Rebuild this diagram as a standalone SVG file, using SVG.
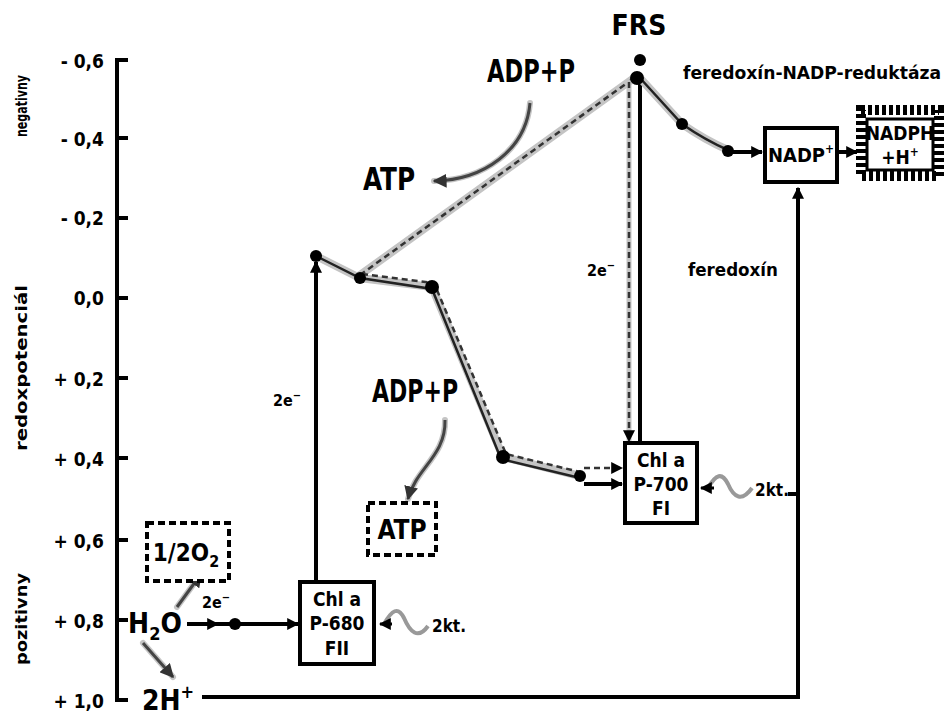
<svg xmlns="http://www.w3.org/2000/svg" width="944" height="717" viewBox="0 0 944 717">
<defs>
<marker id="ah" viewBox="0 0 10 10" refX="9" refY="5" markerWidth="12" markerHeight="12" markerUnits="userSpaceOnUse" orient="auto"><path d="M0,0 L10,5 L0,10 z" fill="#000"/></marker>
<marker id="ahg" viewBox="0 0 10 10" refX="9" refY="5" markerWidth="14" markerHeight="14" markerUnits="userSpaceOnUse" orient="auto"><path d="M0,0 L10,5 L0,10 z" fill="#333"/></marker>
</defs>
<style>
.t{font-family:"Liberation Sans Narrow","DejaVu Sans Condensed","Liberation Sans",sans-serif;font-weight:bold;fill:#000;text-anchor:middle}
.ax{stroke:#000;stroke-width:4;fill:none}
.box{fill:#fff;stroke:#000;stroke-width:4}
.dbox{fill:#fff;stroke:#000;stroke-width:4;stroke-dasharray:7 4}
.ln{stroke:#000;stroke-width:4;fill:none}
.halo{stroke:#c4c4c4;stroke-width:8;fill:none;stroke-linecap:round}
.dash{stroke:#333;stroke-width:2.5;stroke-dasharray:6 4;fill:none}
.thin{stroke:#222;stroke-width:2.5;fill:none}
.garr{stroke:#444;stroke-width:3;fill:none}
.wave{stroke:#999;stroke-width:4;fill:none}
</style>
<g id="axis">
<path class="ax" d="M128,60 H117 V700 H128 M117,138 H128 M117,218 H128 M117,298 H128 M117,378 H128 M117,458 H128 M117,540 H128 M117,620 H128"/>
<g class="t" font-size="19" style="text-anchor:end">
<text x="104" y="68">- 0,6</text>
<text x="104" y="146">- 0,4</text>
<text x="104" y="225">- 0,2</text>
<text x="104" y="305">0,0</text>
<text x="104" y="386">+ 0,2</text>
<text x="104" y="466">+ 0,4</text>
<text x="104" y="548">+ 0,6</text>
<text x="104" y="628">+ 0,8</text>
<text x="104" y="708">+ 1,0</text>
</g>
<text class="t" font-size="16" transform="translate(27,106) rotate(-90)" textLength="62" lengthAdjust="spacingAndGlyphs">negativny</text>
<text class="t" font-size="16" transform="translate(27,368) rotate(-90)" textLength="166" lengthAdjust="spacingAndGlyphs">redoxpotenciál</text>
<text class="t" font-size="16" transform="translate(27,619) rotate(-90)" textLength="92" lengthAdjust="spacingAndGlyphs">pozitivny</text>
</g>
<g id="connectors">
<path class="ln" d="M187,624 H218" marker-end="url(#ah)"/>
<path class="ln" d="M218,624 H298" marker-end="url(#ah)"/>
<circle cx="235" cy="624" r="6"/>
<path class="ln" d="M316,582 V262" marker-end="url(#ah)"/>
<path class="halo" d="M360,275 L634,78"/>
<path class="dash" d="M360,275 L634,78"/>
<path class="halo" d="M316,256 L360,278 L432,287 L503,457 L580,476"/>
<path class="thin" d="M316,256 L360,278 L432,289 L501,459 L580,478"/>
<path class="dash" d="M362,274 L434,283 L506,454 L580,472"/>
<path class="dash" d="M584,468 H622" marker-end="url(#ah)"/>
<path class="ln" d="M584,484 H622" marker-end="url(#ah)"/>
<circle cx="316" cy="256" r="6"/>
<circle cx="360" cy="278" r="6"/>
<circle cx="432" cy="287" r="7"/>
<circle cx="503" cy="457" r="7"/>
<circle cx="580" cy="476" r="6"/>
<path class="halo" d="M629,82 V440" style="stroke-width:5"/>
<path class="dash" d="M629,82 V441" marker-end="url(#ah)"/>
<path class="ln" d="M640,443 V76"/>
<path class="halo" d="M640,78 Q660,100 682,124 Q705,140 728,150"/>
<path class="thin" d="M640,78 Q660,100 682,124 Q705,140 728,150"/>
<circle cx="640" cy="60" r="6"/>
<circle cx="637" cy="78" r="7"/>
<circle cx="682" cy="124" r="6"/>
<circle cx="728" cy="151" r="6"/>
<path class="ln" d="M728,152 H762" marker-end="url(#ah)"/>
<path class="ln" d="M838,152 H857" marker-end="url(#ah)"/>
<path class="ln" d="M202,697 H798 V188" marker-end="url(#ah)"/>
<path class="ln" d="M788,494 H798"/>
<path class="halo" d="M530,103 C526,150 484,180 434,181" style="stroke-width:6"/>
<path class="garr" d="M530,103 C526,150 484,180 434,181" marker-end="url(#ahg)"/>
<path class="halo" d="M445,420 C446,456 416,468 408,499" style="stroke-width:6"/>
<path class="garr" d="M445,420 C446,456 416,468 408,499" marker-end="url(#ahg)"/>
<path class="halo" d="M177,607 L201,574" style="stroke-width:6"/>
<path class="garr" d="M177,607 L201,574" marker-end="url(#ahg)"/>
<path class="halo" d="M143,643 L173,677" style="stroke-width:6"/>
<path class="garr" d="M143,643 L173,677" marker-end="url(#ahg)"/>
<path class="wave" d="M384,624 C392,610 398,606 404,618 C410,632 418,640 428,626"/>
<path class="ln" d="M392,624 H380" marker-end="url(#ah)" style="stroke-width:3"/>
<path class="wave" d="M708,488 C716,474 722,472 728,484 C734,498 742,502 752,488"/>
<path class="ln" d="M714,488 H701" marker-end="url(#ah)" style="stroke-width:3"/>
</g>
<g id="p680">
<rect class="box" x="300" y="582" width="74" height="82"/>
<text class="t" font-size="19" x="337" y="606">Chl a</text>
<text class="t" font-size="19" x="337" y="630">P-680</text>
<text class="t" font-size="19" x="337" y="655">FII</text>
</g>
<g id="p700">
<rect class="box" x="625" y="443" width="72" height="80"/>
<text class="t" font-size="19" x="661" y="467">Chl a</text>
<text class="t" font-size="19" x="661" y="491">P-700</text>
<text class="t" font-size="19" x="661" y="515">FI</text>
</g>
<g id="nadp">
<rect class="box" x="765" y="128" width="72" height="54"/>
<text class="t" font-size="20" x="801" y="162">NADP<tspan font-size="12" dy="-9">+</tspan></text>
</g>
<g id="nadph">
<rect x="861" y="110" width="78" height="66" fill="#fff" stroke="#000" stroke-width="10" stroke-dasharray="4 3"/>
<rect x="867" y="119" width="66" height="51" fill="#fff" stroke="#000" stroke-width="3"/>
<text class="t" font-size="19" x="900" y="140">NADPH</text>
<text class="t" font-size="19" x="900" y="164">+H<tspan font-size="12" dy="-8">+</tspan></text>
</g>
<g id="o2">
<rect class="dbox" x="147" y="523" width="82" height="58"/>
<text class="t" font-size="24" x="186" y="561">1/2O<tspan font-size="16" dy="6">2</tspan></text>
</g>
<g id="atp-box">
<rect class="dbox" x="368" y="503" width="68" height="52"/>
<text class="t" font-size="26" x="402" y="539">ATP</text>
</g>
<g id="labels">
<text class="t" font-size="28" x="155" y="633">H<tspan font-size="18" dy="7">2</tspan><tspan dy="-7">O</tspan></text>
<text class="t" font-size="28" x="168" y="710">2H<tspan font-size="18" dy="-12">+</tspan></text>
<text class="t" font-size="28" x="639" y="35">FRS</text>
<text class="t" font-size="32" x="531" y="82" textLength="88" lengthAdjust="spacingAndGlyphs">ADP+P</text>
<text class="t" font-size="32" x="389" y="190" textLength="52" lengthAdjust="spacingAndGlyphs">ATP</text>
<text class="t" font-size="32" x="415" y="402" textLength="86" lengthAdjust="spacingAndGlyphs">ADP+P</text>
<text class="t" font-size="16" x="287" y="406">2e<tspan font-size="11" dy="-7">−</tspan></text>
<text class="t" font-size="16" x="601" y="276">2e<tspan font-size="11" dy="-7">−</tspan></text>
<text class="t" font-size="16" x="216" y="608">2e<tspan font-size="11" dy="-7">−</tspan></text>
<text class="t" font-size="17" x="733" y="276" textLength="90" lengthAdjust="spacingAndGlyphs">feredoxín</text>
<text class="t" font-size="18" x="812" y="79" textLength="258" lengthAdjust="spacingAndGlyphs">feredoxín-NADP-reduktáza</text>
<text class="t" font-size="17" x="449" y="632">2kt.</text>
<text class="t" font-size="17" x="772" y="496">2kt.</text>
</g>
</svg>
